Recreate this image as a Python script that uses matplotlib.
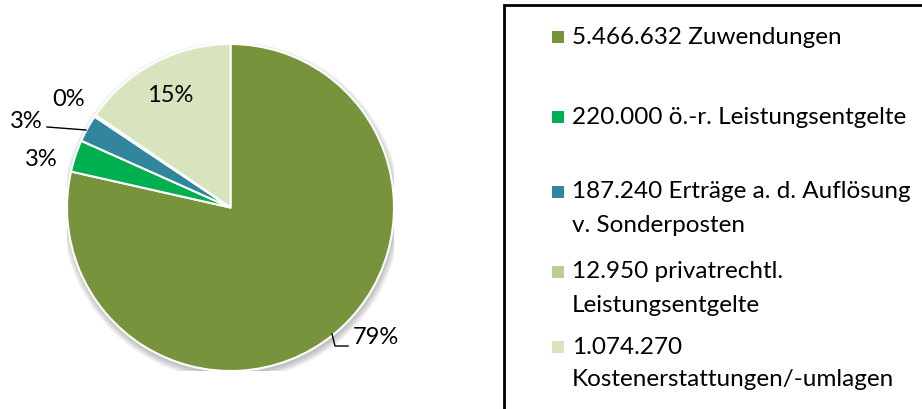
import matplotlib.pyplot as plt
from matplotlib.patches import Circle, Rectangle
from matplotlib.lines import Line2D

# Erträge nach Art (Euro)
values = [5466632, 220000, 187240, 12950, 1074270]
legend_labels = [
    "5.466.632 Zuwendungen",
    "220.000 ö.-r. Leistungsentgelte",
    "187.240 Erträge a. d. Auflösung\nv. Sonderposten",
    "12.950 privatrechtl.\nLeistungsentgelte",
    "1.074.270\nKostenerstattungen/-umlagen",
]
colors = ["#77933C", "#00B050", "#31859C", "#B9CF96", "#D7E4BD"]

plt.rcParams["font.family"] = ["Lato", "DejaVu Sans"]

W, H = 922, 409
fig = plt.figure(figsize=(W / 100, H / 100), dpi=100)


def fx(px):
    return px / W


def fy(py):
    return 1 - py / H


# Kreisdiagramm
cx, cy, r = 230.5, 207.5, 163.5
ax = fig.add_axes([fx(cx - r), fy(cy + r), 2 * r / W, 2 * r / H])

# weicher Schatten unter dem Kreis
for j in range(7):
    ax.add_patch(Circle((1.0 / r, -3.5 / r), 1 + j / r, color="#000000",
                        alpha=0.035, lw=0, zorder=0))

wedges, _ = ax.pie(values, colors=colors, startangle=90, counterclock=False,
                   radius=1, wedgeprops=dict(edgecolor="white", linewidth=1.5))
for w in wedges:
    w.set_zorder(2)
ax.set_xlim(-1, 1)
ax.set_ylim(-1, 1)
ax.set_aspect("auto")
ax.axis("off")

total = sum(values)
pcts = [f"{round(v / total * 100)}%" for v in values]

# Beschriftungen der Segmente (Pixelpositionen)
label_pos = [(376, 337), (41, 160), (26, 121), (69, 100), (170, 96)]
for (px, py), txt in zip(label_pos, pcts):
    fig.text(fx(px), fy(py), txt, fontsize=17, ha="center", va="center")

# Führungslinien
fig.add_artist(Line2D([fx(332), fx(335), fx(348)], [fy(334), fy(346), fy(346)],
                      color="black", lw=1.0))
fig.add_artist(Line2D([fx(47), fx(86)], [fy(127), fy(130)],
                      color="black", lw=1.0))

# Legende mit Rahmen
fig.add_artist(Rectangle((fx(504), fy(420)), fx(440), 415 / H,
                         fill=False, edgecolor="black", lw=2.0,
                         transform=fig.transFigure, clip_on=False))

legend_y = [37, 117, 192, 272, 347]
line_step = 33
for y, lab, col in zip(legend_y, legend_labels, colors):
    fig.add_artist(Rectangle((fx(552), fy(y + 6)), fx(12), 12 / H,
                             facecolor=col, edgecolor="none",
                             transform=fig.transFigure))
    for k, line in enumerate(lab.split("\n")):
        fig.text(fx(572), fy(y + k * line_step), line, fontsize=17.5,
                 ha="left", va="center")

fig.savefig("out.png", dpi=100)
